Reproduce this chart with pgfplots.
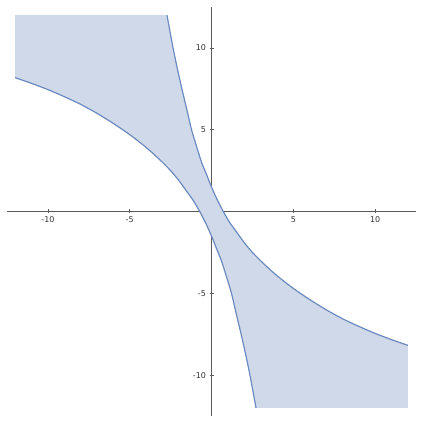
\documentclass[border=0pt]{standalone}
\usepackage{pgfplots}
\pgfplotsset{compat=1.18}
\usepackage{fontspec}
\setmainfont{DejaVu Sans}
\definecolor{fillc}{RGB}{208,217,233}
\definecolor{linec}{RGB}{108,138,192}
\definecolor{axc}{RGB}{90,90,90}

% curve B; curve A is its point reflection
\pgfplotstableread{
x y
-2.72 12
-2.35 10
-2.08 8.7
-1.81 7.5
-1.5 6.2
-1.22 5.0
-0.92 4.0
-0.62 3.05
-0.3 2.25
0 1.5
0.35 0.72
0.72 0
1.1 -0.65
1.53 -1.25
2.0 -1.9
2.5 -2.5
3.2 -3.2
4.0 -3.92
5.0 -4.7
6.0 -5.38
7.0 -6.0
8.0 -6.55
9.0 -7.02
10.0 -7.45
11.0 -7.83
12.0 -8.18
}\curveB

\pgfplotstableread{
x y
-12.0 8.18
-11.0 7.83
-10.0 7.45
-9.0 7.02
-8.0 6.55
-7.0 6.0
-6.0 5.38
-5.0 4.7
-4.0 3.92
-3.2 3.2
-2.5 2.5
-2.0 1.9
-1.53 1.25
-1.1 0.65
-0.72 0
-0.35 -0.72
0 -1.5
0.3 -2.25
0.62 -3.05
0.92 -4.0
1.22 -5.0
1.5 -6.2
1.81 -7.5
2.08 -8.7
2.35 -10
2.72 -12
}\curveA

\begin{document}
\begin{tikzpicture}
\begin{axis}[
    width=409pt, height=409pt,
    scale only axis,
    axis lines=middle,
    axis line style={-, axc, line width=0.8pt},
    xmin=-12.5, xmax=12.5,
    ymin=-12.5, ymax=12.5,
    xtick={-10,-5,5,10},
    ytick={-10,-5,5,10},
    minor tick num=4,
    tick align=center,
    major tick length=4pt,
    minor tick length=2.5pt,
    tick style={axc, line width=0.6pt},
    ticklabel style={font=\fontsize{8}{9}\selectfont, text=black!80},
    /pgf/number format/assume math mode=true,
    clip=false,
    axis on top=false,
]
% fill between the two curves, boxed at +-12
\addplot[fill=fillc, draw=none] coordinates {
(-12,8.18) (-11,7.83) (-10,7.45) (-9,7.02) (-8,6.55) (-7,6.0) (-6,5.38)
(-5,4.7) (-4,3.92) (-3.2,3.2) (-2.5,2.5) (-2,1.9) (-1.53,1.25) (-1.1,0.65)
(-0.72,0) (-0.35,-0.72) (0,-1.5) (0.3,-2.25) (0.62,-3.05) (0.92,-4.0)
(1.22,-5.0) (1.5,-6.2) (1.81,-7.5) (2.08,-8.7) (2.35,-10) (2.72,-12)
(12,-12)
(12,-8.18) (11,-7.83) (10,-7.45) (9,-7.02) (8,-6.55) (7,-6.0) (6,-5.38)
(5,-4.7) (4,-3.92) (3.2,-3.2) (2.5,-2.5) (2,-1.9) (1.53,-1.25) (1.1,-0.65)
(0.72,0) (0.35,0.72) (0,1.5) (-0.3,2.25) (-0.62,3.05) (-0.92,4.0)
(-1.22,5.0) (-1.5,6.2) (-1.81,7.5) (-2.08,8.7) (-2.35,10) (-2.72,12)
(-12,12)
} -- cycle;
\addplot[linec, line width=1.2pt, smooth] table {\curveA};
\addplot[linec, line width=1.2pt, smooth] table {\curveB};
\path (rel axis cs:-0.0171,-0.0171) rectangle (rel axis cs:1.0171,1.0171);
\end{axis}
\end{tikzpicture}
\end{document}
